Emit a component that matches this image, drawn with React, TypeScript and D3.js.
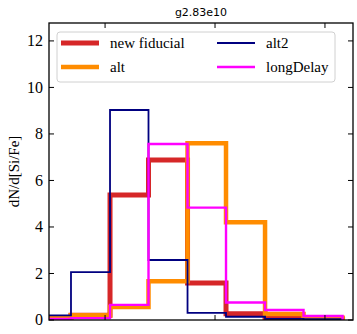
import * as d3 from 'd3'
import React, { useEffect, useRef } from 'react'

// bin edges in [Si/Fe]
const binEdges = [-0.132, -0.062, 0.009, 0.079, 0.150, 0.220, 0.291, 0.361, 0.432]

// dN/d[Si/Fe] per bin
const newFiducial = [0.1, 0.2, 5.37, 6.88, 1.59, 0.27, 0.08, 0.04]
const alt = [0.1, 0.2, 0.56, 1.67, 7.6, 4.2, 0.26, 0.1]
const alt2 = [0.2, 2.06, 9.03, 2.58, 0.31, 0.14, 0.05, 0.04]
const longDelay = [0.05, 0.08, 0.65, 7.57, 4.83, 0.75, 0.43, 0.17]

const seriesNames = ['new fiducial', 'alt', 'alt2', 'longDelay']
const yTicks = [0, 2, 4, 6, 8, 10, 12]
const xTicks = [0, 0.2, 0.4]
const title = 'g2.83e10'

const App = () => {
    const ref = useRef<HTMLDivElement>(null)

    useEffect(() => {
        const root = ref.current
        if (!root) return
        document.body.style.margin = '0'
        d3.select(root).select('svg').remove()

        const w = 357
        const h = 334
        const margin = { top: 23, right: 4, bottom: 14, left: 49 }
        const pw = w - margin.left - margin.right
        const ph = h - margin.top - margin.bottom
        const serif = 'Liberation Serif, DejaVu Serif, serif'

        const svg = d3.select(root)
            .append('svg')
            .attr('width', w)
            .attr('height', h)
            .style('display', 'block')

        const x = d3.scaleLinear().domain([-0.102, 0.451]).range([0, pw])
        const y = d3.scaleLinear().domain([0, 12.77]).range([ph, 0])

        const g = svg.append('g')
            .attr('transform', `translate(${margin.left},${margin.top})`)

        g.append('clipPath').attr('id', 'plot-clip')
            .append('rect').attr('width', pw).attr('height', ph)

        const series = [
            { name: seriesNames[0], values: newFiducial, color: '#d62728', width: 5 },
            { name: seriesNames[1], values: alt, color: '#ff8c00', width: 4.5 },
            { name: seriesNames[2], values: alt2, color: '#000080', width: 1.8 },
            { name: seriesNames[3], values: longDelay, color: '#ff00ff', width: 2.4 },
        ]

        // step outline like histtype='step'
        const stepPath = (vals: number[]) => {
            const pts: [number, number][] = [[binEdges[0], 0]]
            vals.forEach((v, i) => {
                pts.push([binEdges[i], v])
                pts.push([binEdges[i + 1], v])
            })
            pts.push([binEdges[binEdges.length - 1], 0])
            return d3.line<[number, number]>()
                .x(d => x(d[0]))
                .y(d => y(d[1]))(pts)
        }

        const plot = g.append('g').attr('clip-path', 'url(#plot-clip)')
        series.forEach(s => {
            plot.append('path')
                .attr('d', stepPath(s.values))
                .attr('fill', 'none')
                .attr('stroke', s.color)
                .attr('stroke-width', s.width)
                .attr('stroke-linejoin', 'miter')
        })

        // ticks inward on all sides
        const tickLen = 5
        yTicks.forEach(t => {
            g.append('line').attr('x1', 0).attr('x2', tickLen)
                .attr('y1', y(t)).attr('y2', y(t)).attr('stroke', '#000').attr('stroke-width', 1)
            g.append('line').attr('x1', pw - tickLen).attr('x2', pw)
                .attr('y1', y(t)).attr('y2', y(t)).attr('stroke', '#000').attr('stroke-width', 1)
            g.append('text')
                .attr('x', -6)
                .attr('y', y(t))
                .attr('dy', '0.34em')
                .attr('text-anchor', 'end')
                .attr('font-family', serif)
                .attr('font-size', 16)
                .text(t)
        })
        xTicks.forEach(t => {
            g.append('line').attr('x1', x(t)).attr('x2', x(t))
                .attr('y1', ph).attr('y2', ph - tickLen).attr('stroke', '#000').attr('stroke-width', 1)
            g.append('line').attr('x1', x(t)).attr('x2', x(t))
                .attr('y1', 0).attr('y2', tickLen).attr('stroke', '#000').attr('stroke-width', 1)
        })

        // frame
        g.append('rect')
            .attr('width', pw).attr('height', ph)
            .attr('fill', 'none').attr('stroke', '#000').attr('stroke-width', 1.3)

        // title
        svg.append('text')
            .attr('x', margin.left + pw / 2)
            .attr('y', 16)
            .attr('text-anchor', 'middle')
            .attr('font-family', 'DejaVu Sans, sans-serif')
            .attr('font-size', 11)
            .text(title)

        // y label
        svg.append('text')
            .attr('transform', `translate(14,${margin.top + ph / 2}) rotate(-90)`)
            .attr('text-anchor', 'middle')
            .attr('dy', '0.35em')
            .attr('font-family', serif)
            .attr('font-size', 15)
            .text('dN/d[Si/Fe]')

        // legend
        const lg = svg.append('g').attr('transform', 'translate(57,32)')
        lg.append('rect')
            .attr('width', 278).attr('height', 50).attr('rx', 3)
            .attr('fill', '#fff').attr('fill-opacity', 0.8)
            .attr('stroke', '#d0d0d0').attr('stroke-width', 1)
        series.forEach((s, i) => {
            const cx = i < 2 ? 4 : 160
            const cy = 11 + (i % 2) * 24
            lg.append('line')
                .attr('x1', cx).attr('x2', cx + 38)
                .attr('y1', cy).attr('y2', cy)
                .attr('stroke', s.color).attr('stroke-width', s.width)
            lg.append('text')
                .attr('x', cx + 49).attr('y', cy)
                .attr('dy', '0.32em')
                .attr('font-family', serif)
                .attr('font-size', 15)
                .text(s.name)
        })
    }, [])

    return <div ref={ref} />
}

export default App
